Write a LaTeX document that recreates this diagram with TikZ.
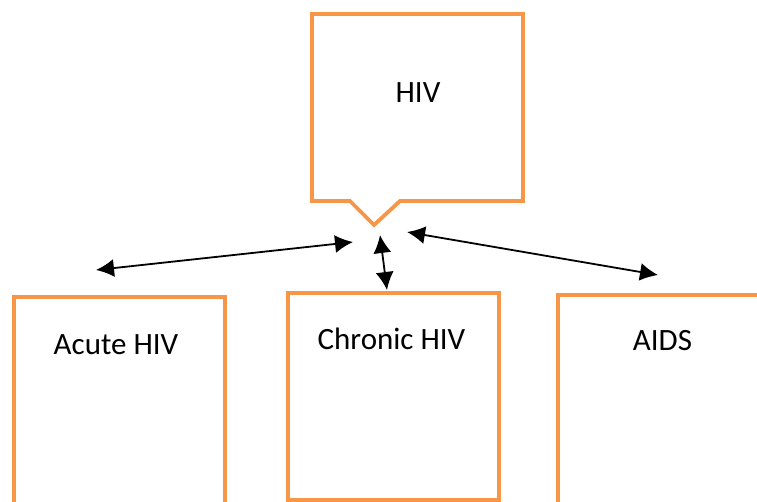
\documentclass[tikz,border=0pt]{standalone}
\usepackage{fontspec}
\setmainfont{Carlito}
\usetikzlibrary{arrows.meta, positioning}

\definecolor{boxorange}{HTML}{F79646}

\begin{document}
\begin{tikzpicture}[x=1pt, y=-1pt,
  font=\fontsize{31}{37}\selectfont,
  box/.style={draw=boxorange, line width=3.8pt, minimum width=211pt,
    anchor=north west, inner sep=0pt},
  lbl/.style={anchor=base, inner sep=0pt},
  link/.style={{Latex[length=18pt, width=18pt]}-{Latex[length=18pt, width=18pt]},
    line width=1.8pt}]

\clip (0,0) rectangle (757,501);
\fill[white] (0,0) rectangle (757,501);

% callout round the top label
\draw[boxorange, line width=3.8pt, line join=miter]
  (312,14) -- (523,14) -- (523,201) -- (400,201) -- (374,225)
  -- (350,201) -- (312,201) -- cycle;
\node[lbl] (hiv) at (418,102) {HIV};

\begin{scope}
    \node[box, minimum height=240pt] (acute) at (12,295) {};
    \node[box, minimum height=207pt] (chronic) at (286,291) {};
    \node[box, minimum height=240pt] (aids) at (556,293) {};
\end{scope}

\node[lbl] (acute-txt) at (116,354) {Acute HIV};
\node[lbl] (chronic-txt) at (391.5,349) {Chronic HIV};
\node[lbl] (aids-txt) at (662.5,350) {AIDS};

\coordinate (tip-l) at (353,242);
\coordinate (tip-m) at (380,235);
\coordinate (tip-r) at (407,232);
\coordinate (acute-end) at (96,270);
\coordinate (chronic-end) at (387,290);
\coordinate (aids-end) at (658,275);

\draw[link] (acute-end) -- (tip-l);
\draw[link] (tip-m) -- (chronic-end);
\draw[link] (tip-r) -- (aids-end);
\end{tikzpicture}
\end{document}
